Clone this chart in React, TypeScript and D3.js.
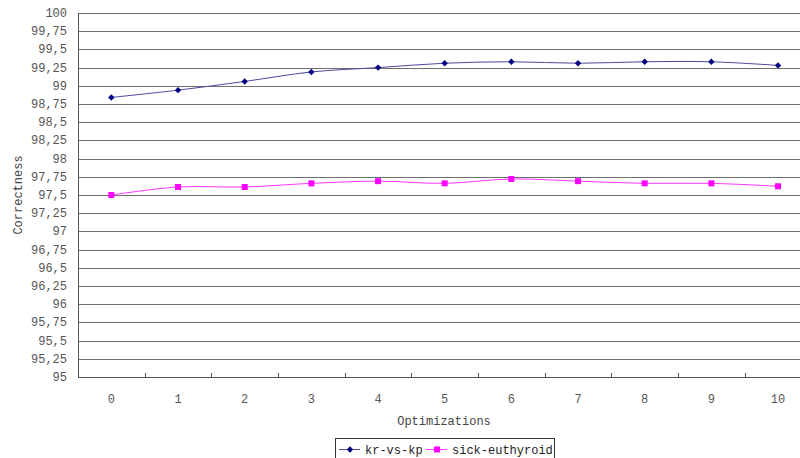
import React, { useEffect, useRef } from 'react';
import * as d3 from 'd3';

const categories = ['0', '1', '2', '3', '4', '5', '6', '7', '8', '9', '10'];
const krVsKp = [98.84, 98.94, 99.06, 99.19, 99.25, 99.31, 99.33, 99.31, 99.33, 99.33, 99.28];
const sickEuthyroid = [97.5, 97.61, 97.61, 97.66, 97.69, 97.66, 97.72, 97.69, 97.66, 97.66, 97.62];
const yTicks = d3.range(95, 100.001, 0.25);
const seriesNames = ['kr-vs-kp', 'sick-euthyroid'];

const FONT = '"Liberation Mono", "DejaVu Sans Mono", monospace';

export default function App() {
  const svgRef = useRef<SVGSVGElement>(null);

  useEffect(() => {
    if (!svgRef.current) return;
    drawChart();
  }, []);

  const drawChart = () => {
    const svg = d3.select(svgRef.current);
    svg.selectAll('*').remove();

    const left = 78;
    const top = 13;
    const bottom = 377;
    const step = 66.67;

    const x = d3
      .scaleBand()
      .domain(categories)
      .range([left, left + step * categories.length]);

    const y = d3.scaleLinear().domain([95, 100]).range([bottom, top]);

    svg.append('rect').attr('width', 800).attr('height', 458).attr('fill', '#fff');

    // gridlines
    svg
      .append('g')
      .selectAll('line')
      .data(yTicks)
      .enter()
      .append('line')
      .attr('x1', left)
      .attr('x2', 812)
      .attr('y1', (d) => Math.round(y(d)) + 0.5)
      .attr('y2', (d) => Math.round(y(d)) + 0.5)
      .attr('stroke', (d) => (d === 95 ? '#555' : '#6e6e6e'))
      .attr('stroke-width', 1);

    // y tick labels
    svg
      .append('g')
      .selectAll('text')
      .data(yTicks)
      .enter()
      .append('text')
      .attr('x', 67)
      .attr('y', (d) => y(d) + 4)
      .attr('text-anchor', 'end')
      .style('font-family', FONT)
      .style('font-size', '12px')
      .style('fill', '#555')
      .text((d) => String(+d.toFixed(2)).replace('.', ','));

    // y axis line
    svg
      .append('line')
      .attr('x1', left + 0.5)
      .attr('x2', left + 0.5)
      .attr('y1', top)
      .attr('y2', bottom + 0.5)
      .attr('stroke', '#555');

    // x tick marks at band boundaries
    svg
      .append('g')
      .selectAll('line')
      .data(categories.slice(1))
      .enter()
      .append('line')
      .attr('x1', (d) => Math.round(x(d)!) + 0.5)
      .attr('x2', (d) => Math.round(x(d)!) + 0.5)
      .attr('y1', bottom - 4)
      .attr('y2', bottom)
      .attr('stroke', '#555');

    // x labels
    svg
      .append('g')
      .selectAll('text')
      .data(categories)
      .enter()
      .append('text')
      .attr('x', (d) => x(d)! + x.bandwidth() / 2)
      .attr('y', 403)
      .attr('text-anchor', 'middle')
      .style('font-family', FONT)
      .style('font-size', '12px')
      .style('fill', '#555')
      .text((d) => d);

    // axis titles
    svg
      .append('text')
      .attr('x', 444)
      .attr('y', 425)
      .attr('text-anchor', 'middle')
      .style('font-family', FONT)
      .style('font-size', '12px')
      .style('fill', '#444')
      .text('Optimizations');

    svg
      .append('text')
      .attr('transform', `translate(22,${(top + bottom) / 2}) rotate(-90)`)
      .attr('text-anchor', 'middle')
      .style('font-family', FONT)
      .style('font-size', '12px')
      .style('fill', '#444')
      .text('Correctness');

    const cx = (i: number) => x(categories[i])! + x.bandwidth() / 2;

    const line = d3
      .line<number>()
      .x((_, i) => cx(i))
      .y((d) => y(d))
      .curve(d3.curveCatmullRom.alpha(0.5));

    // kr-vs-kp
    svg
      .append('path')
      .datum(krVsKp)
      .attr('fill', 'none')
      .attr('stroke', '#4a4a9e')
      .attr('stroke-width', 1)
      .attr('d', line);

    // small square diamond marker
    const diamond = 'M0,-3.2L3.2,0L0,3.2L-3.2,0Z';
    svg
      .append('g')
      .selectAll('path')
      .data(krVsKp)
      .enter()
      .append('path')
      .attr('transform', (d, i) => `translate(${cx(i)},${y(d)})`)
      .attr('d', diamond)
      .attr('fill', '#000080');

    // sick-euthyroid
    svg
      .append('path')
      .datum(sickEuthyroid)
      .attr('fill', 'none')
      .attr('stroke', '#ff33ff')
      .attr('stroke-width', 1)
      .attr('d', line);

    svg
      .append('g')
      .selectAll('rect')
      .data(sickEuthyroid)
      .enter()
      .append('rect')
      .attr('x', (d, i) => cx(i) - 3)
      .attr('y', (d) => y(d) - 3)
      .attr('width', 6)
      .attr('height', 6)
      .attr('fill', '#ff00ff');

    // legend
    const legend = svg.append('g');
    legend
      .append('rect')
      .attr('x', 335.5)
      .attr('y', 438.5)
      .attr('width', 219)
      .attr('height', 30)
      .attr('fill', '#fff')
      .attr('stroke', '#333');

    const items = [
      { name: seriesNames[0], lx: 339, color: '#000080', line: '#4a4a9e', tx: 365 },
      { name: seriesNames[1], lx: 426, color: '#ff00ff', line: '#ff33ff', tx: 452 },
    ];
    items.forEach((it, k) => {
      legend
        .append('line')
        .attr('x1', it.lx)
        .attr('x2', it.lx + 21)
        .attr('y1', 449.5)
        .attr('y2', 449.5)
        .attr('stroke', it.line);
      if (k === 0) {
        legend
          .append('path')
          .attr('transform', `translate(${it.lx + 11},449.5)`)
          .attr('d', diamond)
          .attr('fill', it.color);
      } else {
        legend
          .append('rect')
          .attr('x', it.lx + 8)
          .attr('y', 446.5)
          .attr('width', 6)
          .attr('height', 6)
          .attr('fill', it.color);
      }
      legend
        .append('text')
        .attr('x', it.tx)
        .attr('y', 454)
        .style('font-family', FONT)
        .style('font-size', '12px')
        .style('fill', '#222')
        .text(it.name);
    });
  };

  return (
    <div style={{ position: 'absolute', left: 0, top: 0, width: 800, height: 458, overflow: 'hidden' }}>
      <svg ref={svgRef} width={800} height={458} style={{ display: 'block' }}></svg>
    </div>
  );
}
